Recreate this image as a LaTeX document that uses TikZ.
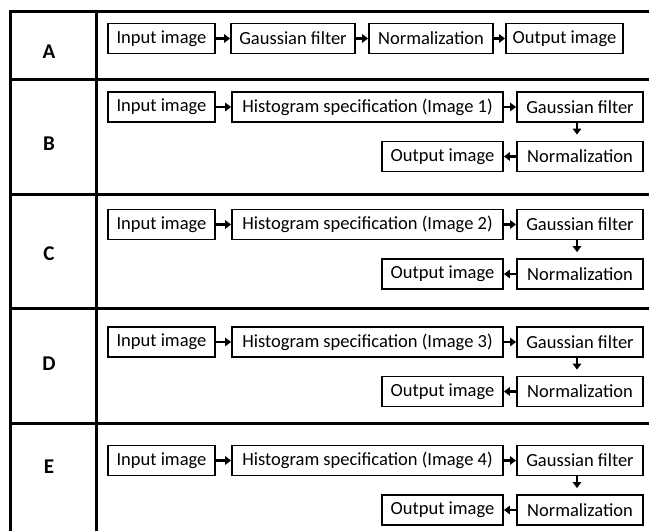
\documentclass[tikz,border=0pt]{standalone}
\usepackage{fontspec}
\setmainfont{Carlito}
\usetikzlibrary{arrows.meta}
\begin{document}
\begin{tikzpicture}[x=1pt,y=-1pt,
  stage/.style={draw, line width=1.8pt, minimum height=30pt, inner sep=0pt,
    font=\fontsize{18.5}{22}\selectfont},
  flow/.style={line width=2.6pt, -{Triangle[length=6pt,width=8.5pt]}},
  rule/.style={line width=3pt},
  rowlabel/.style={font=\bfseries\fontsize{21}{24}\selectfont}]
\useasboundingbox (0,0) rectangle (649,531);

% table rules
\draw[rule] (649,11) -| (10,531);
\draw[rule] (96,11) -- (96,531);
\foreach \yy in {79,194,308,423}
  \draw[rule] (10,\yy) -- (649,\yy);

% row A: plain pipeline
\node[rowlabel] (labA) at (49,52) {A};
\node[stage, minimum width=107pt] (inA)    at (161.5,38.5) {Input image};
\node[stage, minimum width=124pt] (gaussA) at (293,38.5)   {Gaussian filter};
\node[stage, minimum width=124pt] (normA)  at (431,38.5)   {Normalization};
\node[stage, minimum width=117pt] (outA)   at (564.5,38.5) {Output image};
\draw[flow] (inA.east) -- (gaussA.west);
\draw[flow] (gaussA.east) -- (normA.west);
\draw[flow] (normA.east) -- (outA.west);

% rows B--E: histogram specification against a reference image
\foreach \r/\img/\ly/\ty in {B/1/144/107, C/2/254/224.5, D/3/364/342, E/4/467/460.5}{
  \node[rowlabel] (lab\r) at (49,\ly) {\r};
  \node[stage, minimum width=107pt] (in\r)    at (161.5,\ty) {Input image};
  \node[stage, minimum width=271pt] (hist\r)  at (367.5,\ty) {Histogram specification (Image \img)};
  \node[stage, minimum width=126pt] (gauss\r) at (580,\ty)   {Gaussian filter};
  \node[stage, minimum width=126pt] (norm\r)  at (580,\ty+49.5) {Normalization};
  \node[stage, minimum width=121pt] (out\r)   at (442.5,\ty+49.5) {Output image};
  \draw[flow] (in\r.east) -- (hist\r.west);
  \draw[flow] (hist\r.east) -- (gauss\r.west);
  \draw[flow] ([xshift=-3pt]gauss\r.south) -- ([xshift=-3pt,yshift=6pt]norm\r.north);
  \draw[flow] (norm\r.west) -- (out\r.east);
}
\end{tikzpicture}
\end{document}
